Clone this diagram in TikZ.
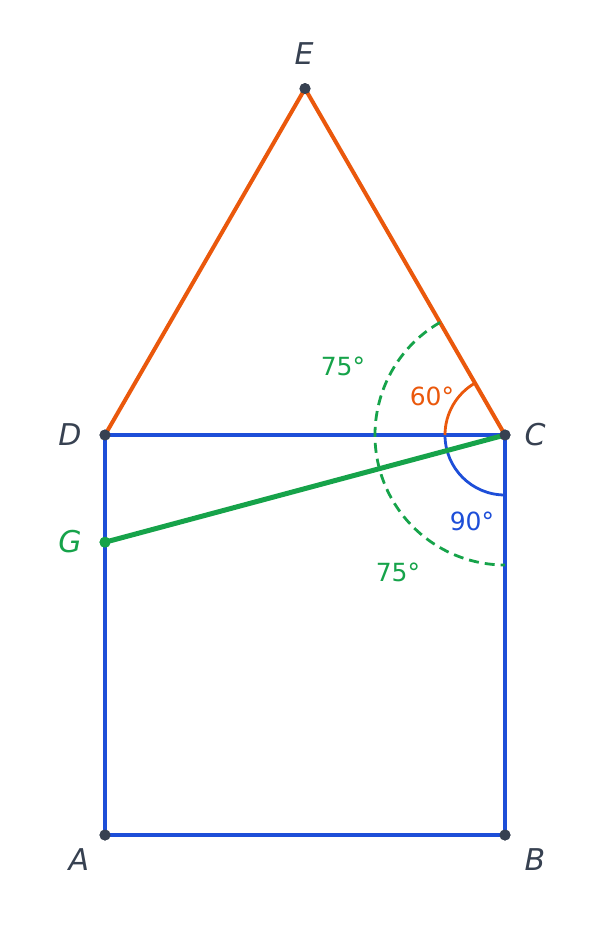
\documentclass[tikz,border=0pt]{standalone}
\usepackage{fontspec}
\setmainfont{DejaVu Sans}
\definecolor{ptgray}{HTML}{374151}
\definecolor{sqblue}{HTML}{1D4ED8}
\definecolor{triorange}{HTML}{EA580C}
\definecolor{lngreen}{HTML}{16A34A}
\begin{document}
\begin{tikzpicture}[x=1pt,y=-1pt,line join=round,
  pt/.style={circle,fill=ptgray,inner sep=0pt,minimum size=11pt},
  ptlabel/.style={text=ptgray,font=\fontsize{30}{34}\selectfont\itshape},
  anglabel/.style={font=\fontsize{25}{29}\selectfont},
  side/.style={line width=4pt},
  angarc/.style={line width=2.8pt},
]
\useasboundingbox (0,0) rectangle (600,930);
%%
\node (node_A) at (105,835) [pt] {};
  \node (node_B) at (505,835) [pt] {};
  \node (node_C) at (505,435) [pt] {};
  \node (node_D) at (105,435) [pt] {};
  \node (node_E) at (305,88.6) [pt] {};
  \node (node_G) at (105,542.2) [pt,fill=lngreen] {};
%
  \draw [side,sqblue] (node_A.center) -- (node_B.center) -- (node_C.center) -- (node_D.center) -- cycle;
  \draw [side,triorange] (node_D.center) -- (node_E.center) -- (node_C.center);
  \draw [angarc,sqblue] (node_C.center) ++(180:60) arc[start angle=180,end angle=90,radius=60];
  \draw [angarc,triorange] (node_C.center) ++(180:60) arc[start angle=180,end angle=240,radius=60];
  \draw [angarc,lngreen,dash pattern=on 10pt off 6pt] (node_C.center) ++(240:130) arc[start angle=240,end angle=90,radius=130];
  \draw [line width=5pt,lngreen] (node_G.center) -- (node_C.center);
  \node at (node_A) [pt] {};
  \node at (node_B) [pt] {};
  \node at (node_C) [pt] {};
  \node at (node_D) [pt] {};
  \node at (node_E) [pt] {};
  \node at (node_G) [pt,fill=lngreen] {};
%
  \node (lbl_A) at (79,860) [ptlabel] {A};
  \node (lbl_B) at (535,860) [ptlabel] {B};
  \node (lbl_C) at (535,435) [ptlabel] {C};
  \node (lbl_D) at (70,435) [ptlabel] {D};
  \node (lbl_E) at (304,54) [ptlabel] {E};
  \node (lbl_G) at (70,542) [ptlabel,text=lngreen] {G};
  \node (ang_ECG) at (343,366) [anglabel,text=lngreen] {75°};
  \node (ang_DCE) at (432,396) [anglabel,text=triorange] {60°};
  \node (ang_DCB) at (472,521) [anglabel,text=sqblue] {90°};
  \node (ang_GCB) at (398,572) [anglabel,text=lngreen] {75°};
%
\end{tikzpicture}
\end{document}
